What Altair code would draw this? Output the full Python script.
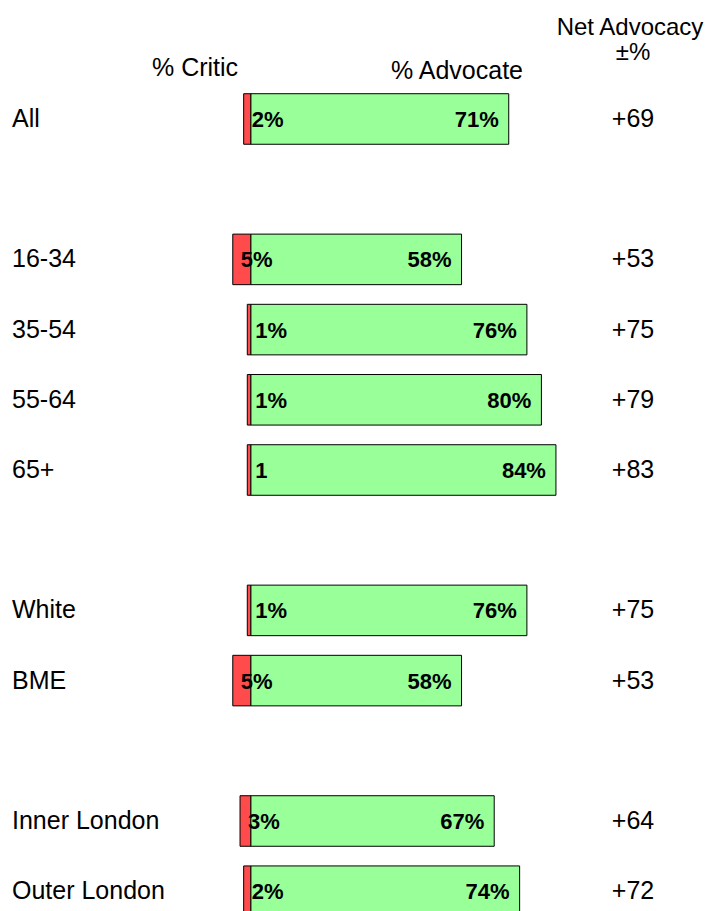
import altair as alt
import pandas as pd

categories = ["All", "16-34", "35-54", "55-64", "65+", "White", "BME", "Inner London", "Outer London"]
slots = [0, 2, 3, 4, 5, 7, 8, 10, 11]
critic = [2, 5, 1, 1, 1, 1, 5, 3, 2]
advocate = [71, 58, 76, 80, 84, 76, 58, 67, 74]
critic_labels = ["2%", "5%", "1%", "1%", "1", "1%", "5%", "3%", "2%"]
advocate_labels = ["71%", "58%", "76%", "80%", "84%", "76%", "58%", "67%", "74%"]
net_labels = ["+69", "+53", "+75", "+79", "+83", "+75", "+53", "+64", "+72"]

df = pd.DataFrame({
    "cat": categories,
    "slot": slots,
    "critic_neg": [-c for c in critic],
    "zero": [0] * len(categories),
    "advocate": advocate,
    "critic_label": critic_labels,
    "advocate_label": advocate_labels,
    "net": net_labels,
})
df["y0"] = df["slot"] - 0.36
df["y1"] = df["slot"] + 0.36

W, H = 699, 903
xscale = alt.Scale(domain=[-66.9, 125.6], nice=False, zero=False)
yscale = alt.Scale(domain=[-1.581, 11.282], nice=False, zero=False, reverse=True)
FONT = "Liberation Sans"
FS = 25
BFS = 22

base = alt.Chart(df)

crit_bar = base.mark_bar(color="#FF4B4B", stroke="black", strokeWidth=1).encode(
    x=alt.X("critic_neg:Q", scale=xscale, axis=None),
    x2="zero:Q",
    y=alt.Y("y0:Q", scale=yscale, axis=None),
    y2="y1:Q",
)
adv_bar = base.mark_bar(color="#99FF99", stroke="black", strokeWidth=1).encode(
    x=alt.X("zero:Q", scale=xscale, axis=None),
    x2="advocate:Q",
    y=alt.Y("y0:Q", scale=yscale, axis=None),
    y2="y1:Q",
)
crit_text = base.mark_text(align="left", baseline="middle", dx=8, dy=1, font=FONT,
                           fontSize=BFS, fontWeight="bold", color="black").encode(
    x=alt.X("critic_neg:Q", scale=xscale, axis=None),
    y=alt.Y("slot:Q", scale=yscale, axis=None),
    text="critic_label:N",
)
adv_text = base.mark_text(align="right", baseline="middle", dx=-10, dy=1, font=FONT,
                          fontSize=BFS, fontWeight="bold", color="black").encode(
    x=alt.X("advocate:Q", scale=xscale, axis=None),
    y=alt.Y("slot:Q", scale=yscale, axis=None),
    text="advocate_label:N",
)
cat_text = base.mark_text(align="left", baseline="middle", font=FONT, fontSize=FS,
                          color="black").encode(
    x=alt.value(4),
    y=alt.Y("slot:Q", scale=yscale, axis=None),
    text="cat:N",
)
net_text = base.mark_text(align="center", baseline="middle", font=FONT, fontSize=FS,
                          color="black").encode(
    x=alt.value(625),
    y=alt.Y("slot:Q", scale=yscale, axis=None),
    text="net:N",
)

def header(label, x, y, fs=FS):
    return alt.Chart(pd.DataFrame({"h": [label]})).mark_text(
        align="center", baseline="alphabetic", font=FONT, fontSize=fs, color="black"
    ).encode(x=alt.value(x), y=alt.value(y), text="h:N")

h1 = header("% Critic", 187, 68)
h2 = header("% Advocate", 449, 71)
h3 = header("Net Advocacy", 622, 27, 24)
h4 = header("±%", 625, 52, 24)

chart = alt.layer(crit_bar, adv_bar, crit_text, adv_text, cat_text, net_text, h1, h2, h3, h4).properties(
    width=W, height=H, padding=0, autosize=alt.AutoSizeParams(type="none")
).configure_view(stroke=None)

chart.save("out.html", embed_options={"renderer": "svg", "actions": False})
